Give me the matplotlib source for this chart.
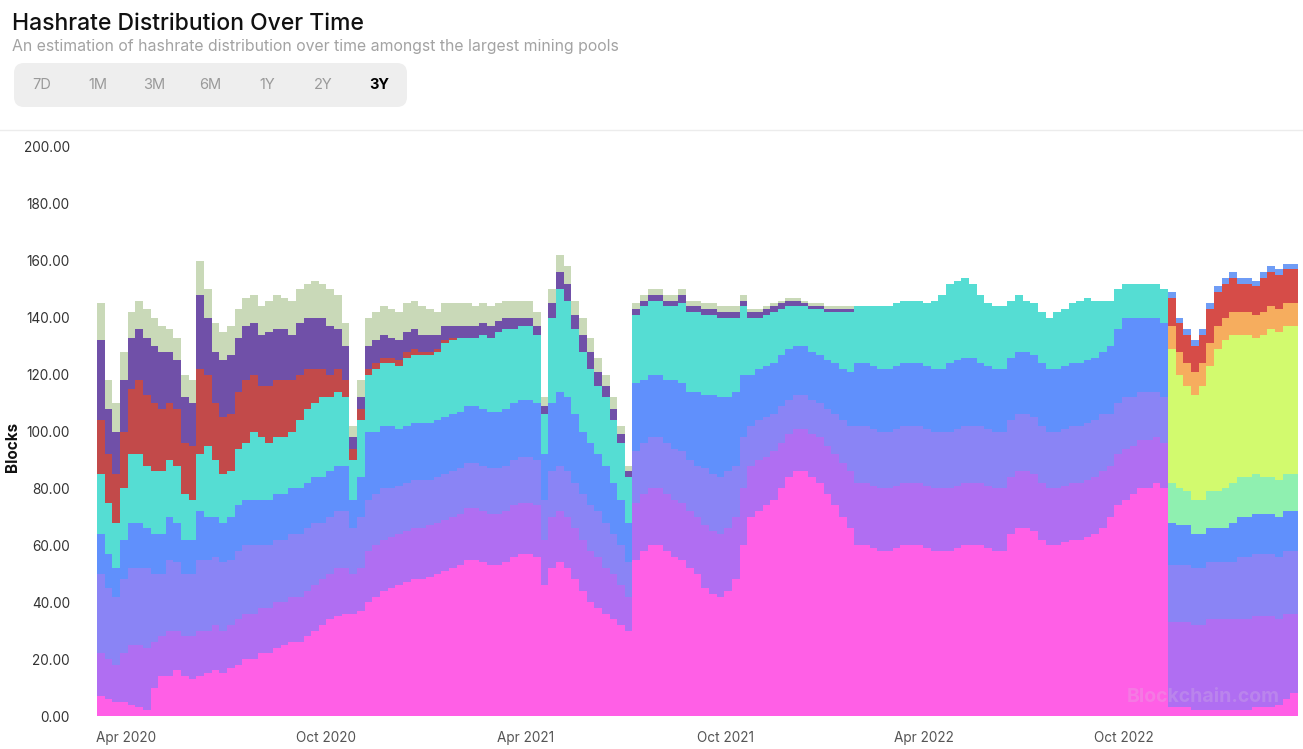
import numpy as np
import pandas as pd
import matplotlib
matplotlib.use("Agg")
import matplotlib.pyplot as plt
import matplotlib.dates as mdates
from matplotlib.patches import FancyBboxPatch

plt.rcParams['font.family'] = ['Inter', 'DejaVu Sans']

# weekly buckets (blocks per day, weekly average)
weeks_a = pd.date_range("2020-03-05", periods=140, freq="7D")
weeks_b = pd.date_range("2022-11-10", periods=17, freq="7D")

pink_a = [
    7, 6, 5, 5, 4, 3, 2, 10, 14, 14, 16, 14, 13, 14, 15, 16, 15, 17, 18, 20,
    20, 22, 22, 24, 25, 26, 26, 28, 30, 32, 34, 35, 36, 36, 37,
    40, 42, 44, 45, 46, 47, 48, 48, 49, 50, 51,
    52, 53, 55, 55, 54, 53, 53, 54, 56, 57, 57, 56,
    46, 52, 54, 52, 48,
    44, 40, 38, 36, 34, 32, 30,
    55, 58, 60, 60, 58, 56, 55, 52, 50,
    45, 43, 42, 44, 48, 60,
    70, 72, 74, 76, 80, 84, 86, 86, 84, 82, 78, 74, 70, 66,
    60, 60, 59, 58, 58, 59, 60, 60, 60, 59, 58, 58, 58, 59, 60, 60, 60, 59, 58, 58,
    64, 66, 66, 65, 62, 60, 60, 61, 62, 62, 63, 64, 66, 70, 74, 76, 78, 80, 80, 82, 80]
violet_a = [
    15, 14, 13, 17, 21, 22, 22, 16, 14, 16, 14, 14, 15, 16, 15, 16, 15, 15, 16, 16,
    16, 16, 16, 16, 15, 16, 16, 16, 16, 16, 16, 17, 16, 14, 15,
    18, 18, 18, 18, 18, 18, 18, 18, 18, 18, 18,
    18, 18, 18, 18, 18, 18, 18, 18, 18, 18, 18, 18,
    16, 18, 18, 18, 18,
    18, 18, 18, 16, 16, 14, 12,
    20, 20, 20, 20, 20, 20, 20, 20, 20,
    22, 22, 22, 22, 22, 20,
    18, 18, 17, 17, 16, 15, 15, 15, 15, 16, 17, 18, 19, 20,
    22, 22, 22, 22, 22, 22, 22, 22, 22, 22, 22, 22, 22, 22, 22, 22, 22, 22, 22, 22,
    20, 20, 20, 20, 20, 20, 20, 20, 20, 20, 20, 20, 20, 18, 18, 18, 17, 17, 17, 16, 16]
lavender_a = [
    28, 25, 24, 26, 27, 27, 28, 24, 22, 25, 24, 22, 22, 25, 25, 24, 24, 23, 24, 24,
    24, 22, 22, 22, 22, 22, 22, 22, 22, 20, 20, 20, 20, 16, 18,
    18, 18, 18, 17, 17, 17, 17, 17, 16, 16, 16,
    16, 16, 16, 16, 16, 16, 16, 16, 16, 16, 16, 16,
    14, 16, 16, 16, 16,
    16, 16, 16, 16, 14, 14, 12,
    18, 18, 18, 18, 18, 18, 18, 18, 18,
    20, 20, 20, 20, 18, 18,
    14, 14, 14, 13, 13, 12, 12, 12, 12, 12, 13, 14, 15, 16,
    20, 20, 20, 20, 20, 20, 20, 20, 20, 20, 20, 20, 20, 20, 20, 20, 20, 20, 20, 20,
    20, 20, 20, 20, 20, 20, 20, 20, 20, 20, 20, 20, 20, 18, 18, 18, 17, 17, 17, 16, 16]
blue_a = [
    14, 12, 10, 14, 16, 16, 14, 14, 14, 15, 14, 12, 12, 17, 15, 14, 14, 15, 16, 16,
    16, 16, 16, 16, 16, 16, 16, 16, 16, 16, 16, 16, 16, 10, 14,
    24, 22, 22, 22, 20, 20, 20, 20, 20, 20, 20,
    20, 20, 20, 20, 20, 20, 20, 20, 20, 20, 20, 20,
    16, 24, 26, 26, 24,
    22, 22, 20, 20, 18, 16, 14,
    24, 22, 22, 22, 22, 24, 24, 24, 26,
    26, 28, 28, 26, 26, 22,
    18, 18, 18, 18, 18, 18, 17, 17, 17, 17, 17, 18, 18, 19,
    22, 22, 22, 22, 22, 22, 22, 22, 22, 22, 22, 22, 24, 24, 24, 24, 22, 22, 22, 22,
    22, 22, 22, 22, 22, 22, 22, 22, 22, 22, 22, 22, 22, 24, 26, 28, 28, 26, 26, 26, 26]
teal_a = [
    21, 18, 16, 18, 24, 24, 22, 22, 22, 20, 20, 16, 14, 20, 25, 20, 17, 16, 20, 20,
    24, 22, 20, 20, 20, 20, 24, 26, 26, 28, 26, 26, 24, 14, 20,
    20, 22, 22, 22, 22, 24, 24, 24, 24, 24, 26,
    26, 26, 24, 24, 26, 26, 28, 28, 26, 26, 26, 24,
    14, 30, 36, 34, 30,
    28, 26, 24, 24, 22, 20, 16,
    24, 26, 26, 26, 26, 26, 28, 28, 28,
    28, 28, 28, 28, 26, 24,
    20, 18, 18, 18, 16, 15, 14, 14, 15, 16, 17, 18, 20, 21,
    20, 20, 21, 22, 22, 22, 22, 22, 22, 22, 24, 26, 28, 28, 28, 26, 24, 22, 22, 22,
    20, 20, 18, 18, 18, 18, 20, 20, 21, 22, 22, 20, 18, 16, 14, 12, 12, 12, 12, 12, 12]
red_a = [
    19, 17, 17, 20, 23, 26, 25, 24, 22, 20, 20, 18, 19, 30, 25, 20, 20, 20, 20, 22,
    20, 18, 20, 20, 20, 18, 16, 14, 12, 10, 8, 8, 6, 4, 4,
    2, 2, 2, 2, 2, 2, 2, 1, 1, 1, 1,
    1, 0, 0, 0, 0, 0, 0, 0, 0, 0, 0, 0,
    0, 0, 0, 0, 0,
    0, 0, 0, 0, 0, 0, 0,
    0, 0, 0, 0, 0, 0, 0, 0, 0,
    0, 0, 0, 0, 0, 0,
    0, 0, 0, 0, 0, 0, 0, 0, 0, 0, 0, 0, 0, 0,
    0, 0, 0, 0, 0, 0, 0, 0, 0, 0, 0, 0, 0, 0, 0, 0, 0, 0, 0, 0,
    0, 0, 0, 0, 0, 0, 0, 0, 0, 0, 0, 0, 0, 0, 0, 0, 0, 0, 0, 0, 0]
purple_a = [
    28, 16, 15, 18, 18, 18, 20, 20, 20, 18, 17, 16, 15, 26, 20, 18, 20, 21, 19, 19,
    18, 18, 19, 18, 18, 16, 18, 18, 18, 18, 17, 14, 12, 4, 4,
    8, 8, 8, 7, 7, 7, 7, 6, 6, 5, 5,
    4, 4, 4, 4, 4, 4, 4, 4, 4, 3, 3, 3,
    3, 5, 6, 6, 5,
    6, 6, 5, 4, 4, 3, 2,
    2, 2, 2, 2, 2, 2, 3, 2, 2,
    2, 2, 2, 2, 2, 2,
    2, 2, 2, 2, 2, 2, 2, 1, 1, 1, 1, 1, 1, 1,
    0, 0, 0, 0, 0, 0, 0, 0, 0, 0, 0, 0, 0, 0, 0, 0, 0, 0, 0, 0,
    0, 0, 0, 0, 0, 0, 0, 0, 0, 0, 0, 0, 0, 0, 0, 0, 0, 0, 0, 0, 0]
khaki_a = [
    13, 10, 10, 10, 9, 10, 10, 10, 9, 8, 8, 8, 8, 12, 10, 10, 10, 10, 10, 10,
    10, 10, 11, 12, 11, 12, 12, 12, 13, 12, 13, 12, 8, 4, 6,
    10, 10, 10, 10, 10, 10, 10, 10, 9, 8, 8,
    8, 8, 8, 7, 7, 7, 6, 6, 6, 6, 6, 5,
    3, 5, 6, 6, 5,
    6, 5, 5, 4, 4, 3, 2,
    2, 2, 2, 2, 2, 2, 2, 2, 2,
    2, 2, 2, 2, 2, 2,
    1, 1, 1, 1, 1, 1, 1, 1, 1, 1, 1, 1, 1, 1,
    0, 0, 0, 0, 0, 0, 0, 0, 0, 0, 0, 0, 0, 0, 0, 0, 0, 0, 0, 0,
    0, 0, 0, 0, 0, 0, 0, 0, 0, 0, 0, 0, 0, 0, 0, 0, 0, 0, 0, 0, 0]

# last stretch, pools re-coloured
pink_b = [3, 3, 3, 2, 2, 2, 2, 2, 2, 2, 2, 3, 3, 3, 4, 6, 8]
violet_b = [30, 30, 30, 30, 30, 32, 32, 32, 32, 32, 32, 32, 32, 32, 30, 30, 28]
lavender_b = [20, 20, 20, 20, 20, 20, 20, 20, 20, 22, 22, 22, 22, 22, 22, 22, 22]
blue_b = [15, 14, 14, 12, 12, 12, 12, 12, 14, 14, 14, 14, 14, 14, 14, 14, 14]
mint_b = [14, 13, 12, 12, 12, 13, 13, 14, 14, 14, 14, 14, 13, 13, 13, 13, 13]
lime_b = [47, 40, 37, 37, 40, 44, 50, 52, 52, 50, 50, 48, 50, 52, 52, 52, 52]
orange_b = [8, 8, 8, 8, 8, 8, 8, 8, 8, 8, 8, 8, 8, 8, 8, 8, 8]
red_b = [10, 10, 10, 9, 10, 12, 12, 12, 12, 10, 10, 10, 12, 12, 12, 12, 12]
tip_b = [2, 2, 2, 2, 2, 2, 2, 2, 2, 2, 2, 2, 2, 2, 2, 2, 2]

colors_a = ['#ff5fe6', '#b06ef2', '#8a84f5', '#6090fc', '#55ddd3',
            '#c24a4a', '#7050a8', '#c9d9b8']
colors_b = ['#ff5fe6', '#b06ef2', '#8a84f5', '#6090fc', '#8ff0b0',
            '#d2fa6e', '#f6ad5e', '#d64c48', '#6f9cf5']

fig = plt.figure(figsize=(13.03, 7.49), dpi=100)
ax = fig.add_axes([97 / 1303, 33 / 749, 1201 / 1303, 569 / 749])


def stack(dates, layers, colors):
    x = mdates.date2num(dates)
    bottom = np.zeros(len(x))
    for vals, col in zip(layers, colors):
        vals = np.array(vals, dtype=float)
        ax.bar(x, vals, width=7, bottom=bottom, align='edge', color=col,
               linewidth=0, antialiased=False)
        bottom += vals


stack(weeks_a, [pink_a, violet_a, lavender_a, blue_a, teal_a,
                red_a, purple_a, khaki_a], colors_a)
stack(weeks_b, [pink_b, violet_b, lavender_b, blue_b, mint_b,
                lime_b, orange_b, red_b, tip_b], colors_b)

ax.set_xlim(mdates.date2num(pd.Timestamp("2020-03-05")),
            mdates.date2num(pd.Timestamp("2023-03-09")))
ax.set_ylim(0, 200)
ax.set_yticks(np.arange(0, 201, 20))
ax.yaxis.set_major_formatter(matplotlib.ticker.FormatStrFormatter('%.2f'))
ax.xaxis.set_major_locator(mdates.MonthLocator(bymonth=[4, 10]))
ax.xaxis.set_major_formatter(mdates.DateFormatter('%b %Y'))
ax.tick_params(axis='y', length=0, pad=19.5, labelsize=9.8, labelcolor='#333333')
ax.tick_params(axis='x', length=0, pad=11, labelsize=9.8, labelcolor='#555555')
for s in ax.spines.values():
    s.set_visible(False)

ax.text(0.985, 0.018, 'Blockchain.com', transform=ax.transAxes, ha='right',
        va='bottom', fontsize=14, fontweight='bold', color='#d9c9dd', alpha=0.25)

fig.text(12 / 1303, 1 - 447 / 749, 'Blocks', rotation=90, ha='center',
         va='center', fontsize=11, fontweight='bold', color='#111111')

# header drawn in pixel coords
hdr = fig.add_axes([0, 0, 1, 1])
hdr.set_xlim(0, 1303)
hdr.set_ylim(749, 0)
hdr.axis('off')
hdr.text(12, 24, 'Hashrate Distribution Over Time', fontsize=16.5,
         fontweight='medium', color='#111111', va='center', ha='left')
hdr.text(12, 47, 'An estimation of hashrate distribution over time amongst the largest mining pools',
         fontsize=11.4, color='#a3a3a3', va='center', ha='left')
hdr.add_patch(FancyBboxPatch((14, 63), 393, 44,
                             boxstyle='round,pad=0,rounding_size=10',
                             facecolor='#eeeeee', edgecolor='none'))
btns = ['7D', '1M', '3M', '6M', '1Y', '2Y', '3Y']
bx = [42, 98, 154, 210, 267, 323, 379]
for b, xx in zip(btns, bx):
    if b == '3Y':
        hdr.text(xx, 85, b, fontsize=10.5, fontweight='bold', color='#000000',
                 ha='center', va='center')
    else:
        hdr.text(xx, 85, b, fontsize=10.5, color='#9a9a9a', ha='center', va='center')
hdr.plot([0, 1303], [130, 130], color='#ececec', lw=1)

fig.savefig('out.png', dpi=100)
